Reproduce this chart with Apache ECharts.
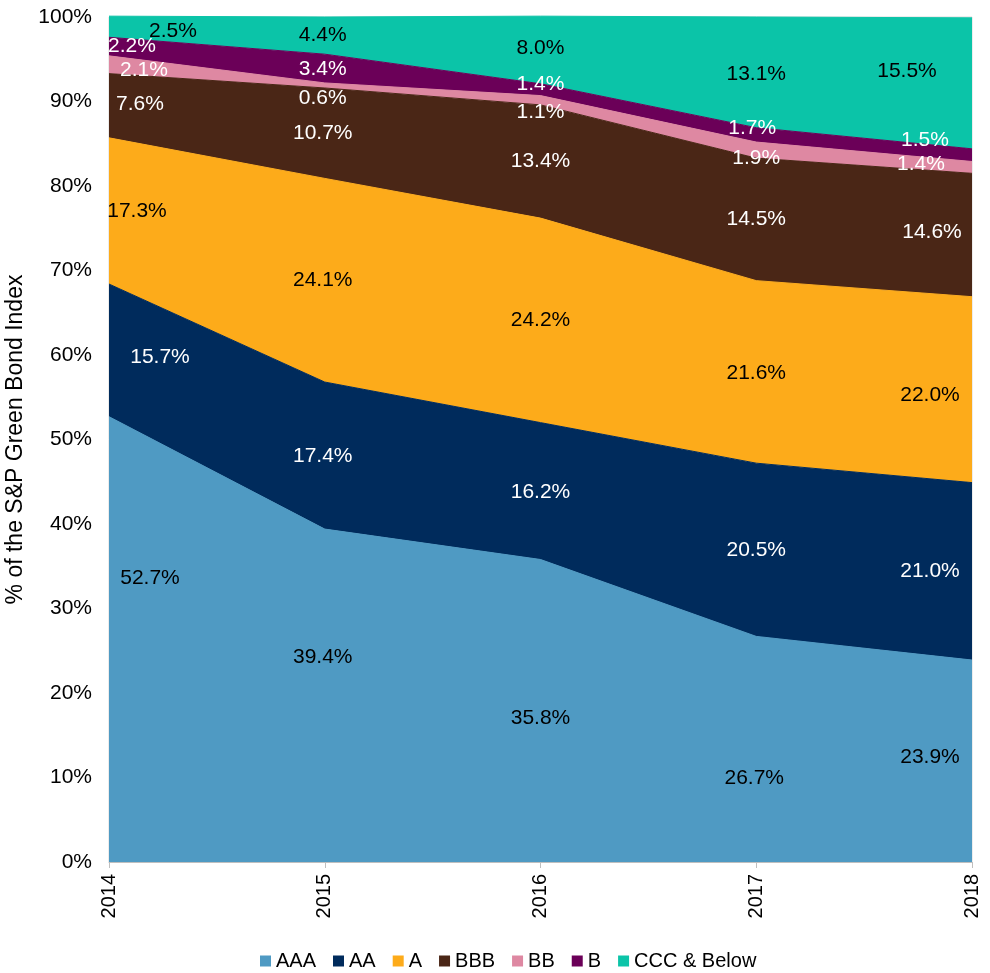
<!DOCTYPE html>
<html>
<head>
<meta charset="utf-8">
<script src="https://cdn.jsdelivr.net/npm/echarts@6/dist/echarts.min.js"></script>
<style>
  html, body { margin: 0; padding: 0; background: #ffffff; }
  #chart { width: 990px; height: 973px; }
</style>
</head>
<body>
<div id="chart"></div>
<script>
// Rating mix of the S&P Green Bond Index by year (% of index)
const years = ['2014', '2015', '2016', '2017', '2018'];
const ratings = ['AAA', 'AA', 'A', 'BBB', 'BB', 'B', 'CCC & Below'];

const aaa = [52.7, 39.4, 35.8, 26.7, 23.9];
const aa  = [15.7, 17.4, 16.2, 20.5, 21.0];
const a   = [17.3, 24.1, 24.2, 21.6, 22.0];
const bbb = [7.6, 10.7, 13.4, 14.5, 14.6];
const bb  = [2.1, 0.6, 1.1, 1.9, 1.4];
const b   = [2.2, 3.4, 1.4, 1.7, 1.5];
const ccc = [2.5, 4.4, 8.0, 13.1, 15.5];

const seriesValues = [aaa, aa, a, bbb, bb, b, ccc];

// Layout
const FONT = '"Liberation Sans", Arial, Helvetica, sans-serif';
const W = 990, H = 973;
const GRID = { left: 109, right: 18, top: 17, bottom: 111 };
const pxPerPct = (H - GRID.top - GRID.bottom) / 100;

const colors = ['#4f9ac3', '#002b5c', '#fdab1a', '#4a2616', '#de88a2', '#6b0058', '#0bc4a8'];
const labelColors = ['#000000', '#ffffff', '#000000', '#ffffff', '#ffffff', '#ffffff', '#000000'];

// Per-label nudges [dx, dy] in px, applied after centring each label in its band
const labelNudge = [
  [[41, -61], [-2, -38], [0, 7], [-2, 29], [-42, -4]],
  [[51, 7], [-2, 1], [0, 1], [0, 0], [-42, 0]],
  [[28, 0], [-2, 0], [0, 0], [0, 1], [-42, 6]],
  [[31, -2], [-2, 0], [0, 0], [0, 0], [-40, -3]],
  [[35, 5], [-2, 13], [0, 12], [0, 8], [-51, -3]],
  [[23, 0], [-2, 1], [0, -5], [-4, -7], [-47, -15]],
  [[64, 4], [-2, 0], [0, -2], [0, 2], [-65, -12]]
];

const series = ratings.map((name, s) => ({
  name: name,
  type: 'line',
  stack: 'total',
  clip: false,
  smooth: false,
  symbol: 'circle',
  symbolSize: 0.01,
  showSymbol: true,
  itemStyle: { color: colors[s] },
  lineStyle: { width: 1, color: colors[s] },
  areaStyle: { color: colors[s], opacity: 1 },
  emphasis: { disabled: true },
  label: {
    show: true,
    position: 'inside',
    color: labelColors[s],
    fontFamily: FONT,
    fontSize: 21,
    formatter: p => p.value.toFixed(1) + '%'
  },
  data: seriesValues[s].map((v, i) => ({
    value: v,
    label: { offset: [labelNudge[s][i][0], v / 2 * pxPerPct + labelNudge[s][i][1]] }
  }))
}));

const chart = echarts.init(document.getElementById('chart'), null, { renderer: 'canvas', width: W, height: H });

chart.setOption({
  animation: false,
  backgroundColor: '#ffffff',
  grid: {
    left: GRID.left, right: GRID.right, top: GRID.top, bottom: GRID.bottom,
    outerBoundsMode: 'none',
    containLabel: false,
    show: true, borderColor: '#d9d9d9', borderWidth: 1, backgroundColor: 'transparent'
  },
  legend: {
    data: ratings,
    left: 260,
    top: 951,
    padding: 0,
    icon: 'rect',
    itemWidth: 11,
    itemHeight: 11,
    itemGap: 17,
    textStyle: { fontFamily: FONT, fontSize: 20, color: '#000000' }
  },
  xAxis: {
    type: 'category',
    data: years,
    boundaryGap: false,
    axisLine: { show: true, lineStyle: { color: '#bfbfbf', width: 1 } },
    axisTick: { show: true, length: 6, lineStyle: { color: '#bfbfbf' } },
    axisLabel: { rotate: 90, margin: 12, fontFamily: FONT, fontSize: 20, color: '#000000' },
    splitLine: { show: false }
  },
  yAxis: {
    type: 'value',
    min: 0,
    max: 100,
    interval: 10,
    name: '% of the S&P Green Bond Index',
    nameLocation: 'middle',
    nameGap: 82,
    nameTextStyle: { fontFamily: FONT, fontSize: 23, color: '#000000' },
    axisLine: { show: false },
    axisTick: { show: false },
    splitLine: { show: false },
    axisLabel: { formatter: '{value}%', margin: 17, fontFamily: FONT, fontSize: 21, color: '#000000' }
  },
  series: series
});
</script>
</body>
</html>
